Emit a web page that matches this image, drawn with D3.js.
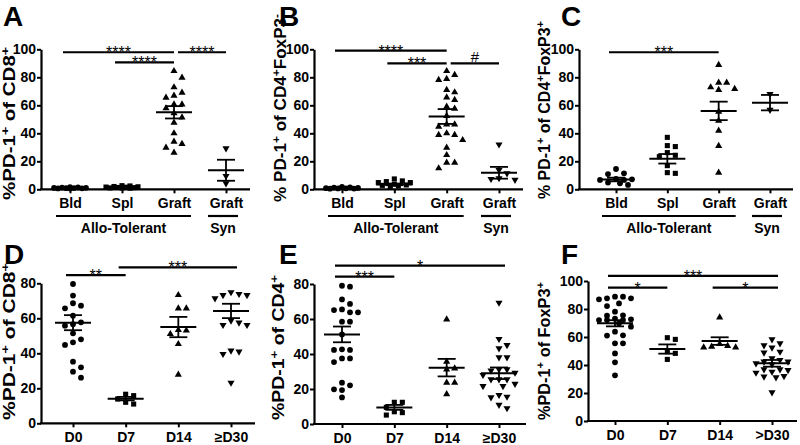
<!DOCTYPE html>
<html><head><meta charset="utf-8">
<script src="https://cdn.jsdelivr.net/npm/d3@7"></script>
<style>
html,body{margin:0;padding:0;background:#fff;}
svg{display:block;}
</style>
</head><body>
<svg id="chart" width="800" height="445"></svg>
<script>
// ---------------- DATA ----------------
const catsTop = ["Bld", "Spl", "Graft", "Graft"];
const catsDE = ["D0", "D7", "D14", "\u2265D30"];
const catsF = ["D0", "D7", "D14", ">D30"];
const ticks100 = [0, 20, 40, 60, 80, 100];
const ticks80 = [0, 20, 40, 60, 80];
const groupLabels = ["Allo-Tolerant", "Syn"];

// Panel A: %PD-1+ of CD8+
const A_bld = [1.6, 1.2, 0.8, 0.5, 1.0, 0.7, 1.3, 0.9, 0.6, 1.1];
const A_spl = [2.4, 1.8, 1.2, 0.9, 1.5, 2.0, 1.0, 1.6, 2.6, 1.3, 0.8];
const A_graft = [84.5, 79.8, 72.9, 69, 66.9, 65.5, 60.7, 60.7, 57.9, 54.3, 51.4, 47.6, 40, 34, 32.4, 29.8, 26.2];
const A_syn = [29.3, 9.5, 4.3];
const A_mean = [1.0, 1.6, 55, 13.6];
const A_sem = [0.2, 0.3, 4.4, 7.5];
const A_sig = [[0, 2, 97.9, "****"], [1, 2, 90.7, "****"], [2, 3, 97.9, "****"]];

// Panel B: % PD-1+ of CD4+FoxP3-
const B_bld = [1.8, 1.2, 0.8, 0.5, 0.6, 1.0, 0.4, 1.4, 0.7];
const B_spl = [7.4, 5.5, 3.6, 3.1, 4.8, 6.0, 2.4, 1.9, 4.8, 2.8];
const B_graft = [84.5, 81.7, 78.8, 78.1, 71, 69.3, 65.7, 63.8, 59, 57.6, 52.4, 46.4, 46.4, 44.8, 40, 38.8, 38.8, 35.2, 29.8, 24.5, 19, 19, 15];
const B_syn = [32, 13.8, 11.4, 7.9, 7.4, 6.7];
const B_mean = [1.0, 3.5, 52, 11.8];
const B_sem = [0.2, 0.6, 5.3, 4.2];
const B_sig = [[0, 2, 99, "****"], [1, 2, 90, "***"], [2, 3, 90, "#"]];

// Panel C: % PD-1+ of CD4+FoxP3+
const C_bld = [14.5, 11.4, 10.9, 7.4, 7.1, 6.7, 6.7, 4.3, 4.8, 3.1];
const C_spl = [37.1, 31.2, 30.5, 26.2, 24.3, 23.3, 16.9, 11.4, 11.9];
const C_graft = [88.8, 76.2, 76.2, 71.7, 71, 72.9, 55.5, 49, 41.9, 31, 11.9];
const C_syn = [68.1, 56.7];
const C_mean = [7.0, 21.8, 56, 61.9];
const C_sem = [1.3, 3.4, 6.6, 5.5];
const C_sig = [[0, 2, 97.9, "***"]];

// Panel D: %PD-1+ of CD8+ over time
const D_d0 = [79.6, 73, 68.6, 67.2, 65.7, 61.5, 57.7, 56.6, 55.8, 51.4, 48, 46.3, 44.8, 35.2, 32, 29.5, 26.1];
const D_d7 = [16.6, 15.8, 13.9, 12, 11];
const D_d14 = [73.3, 65.7, 65.7, 53.3, 53, 51, 45.3, 27.8];
const D_d30 = [74.9, 73.9, 73.3, 73.3, 71.4, 58.7, 57.5, 56.2, 56.2, 41.5, 41, 39.6, 23.2];
const D_mean = [57.5, 14.1, 55, 64.2];
const D_sem = [4.3, 1.0, 5.8, 4.1];
const D_sig = [[0, 1, 84.7, "**"], [1, 3, 89.1, "***"]];

// Panel E: %PD-1+ of CD4+ over time
const E_d0 = [79, 78.5, 71.2, 68.6, 65.5, 65.1, 63.8, 63.8, 58.5, 58.5, 51.2, 42.7, 42.3, 42.3, 37.5, 37.5, 35.4, 23.6, 22.1, 19.8, 19.4, 15.2];
const E_d7 = [12.4, 12.4, 9.5, 7, 6.5, 5.1];
const E_d14 = [59.8, 35.6, 31.8, 31.2, 23.6, 23.6, 17.1];
const E_d30 = [69.3, 48.6, 45.1, 43.2, 38.1, 38.1, 31.2, 31.2, 30.5, 29.3, 28, 25.5, 25.5, 25.5, 22.9, 21.7, 21.7, 16.6, 15.6, 15.2, 10.9, 9];
const E_mean = [51.2, 9.5, 32.2, 29];
const E_sem = [4.5, 1.4, 5, 3.3];
const E_sig = [[0, 1, 84.2, "***"], [0, 3, 90.5, "*"]];

// Panel F: %PD-1+ of FoxP3+ over time
const F_d0 = [88.8, 88.8, 87.6, 87.6, 86.9, 84, 82.1, 78.1, 75.5, 75.2, 73.1, 72.6, 72.1, 72.1, 72.1, 69.8, 67.4, 63.8, 61.2, 61, 55.5, 55.5, 48.3, 41.9, 32.6];
const F_d7 = [59.5, 58.3, 49.5, 48.3, 44];
const F_d14 = [74, 55, 53.6, 53.1, 52.6, 52.6];
const F_d30 = [58.3, 55.5, 54, 52.4, 49.5, 48.8, 44.8, 43.6, 42.4, 42.4, 41.2, 40.5, 36.9, 36.9, 36.4, 35.2, 34.5, 32.1, 31.7, 31.2, 20.5];
const F_mean = [69.8, 51.4, 57.1, 41.2];
const F_sem = [2.2, 3.3, 2.7, 2.4];
const F_sig = [[0, 3, 103.6, "***"], [0, 1, 95.2, "*"], [2, 3, 95.2, "*"]];

// ---------------- LAYOUT ----------------
const FONT = '"Liberation Sans", Arial, Helvetica, sans-serif';
const svg = d3.select("#chart");

const panels = [
  { letter: "A", lx: 3, ly: 26, cats: catsTop, groups: [A_bld, A_spl, A_graft, A_syn], mean: A_mean, sem: A_sem, sig: A_sig,
    ax: 41, xr: [70, 226], xend: 250, yb: 189.3, yt: 49.3, ymax: 100, ticks: ticks100,
    title: [["%PD-1", 0], ["+", 1], [" of CD8", 0], ["+", 1]], tx: 15, ty: 123.5, tlen: 153, grp: true },
  { letter: "B", lx: 279, ly: 26, cats: catsTop, groups: [B_bld, B_spl, B_graft, B_syn], mean: B_mean, sem: B_sem, sig: B_sig,
    ax: 314, xr: [342, 499], xend: 523, yb: 189.3, yt: 49.3, ymax: 100, ticks: ticks100,
    title: [["% PD-1", 0], ["+", 1], [" of  CD4", 0], ["+", 1], ["FoxP3", 0], ["-", 1]], tx: 286, ty: 108, tlen: 188, grp: true },
  { letter: "C", lx: 561, ly: 26, cats: catsTop, groups: [C_bld, C_spl, C_graft, C_syn], mean: C_mean, sem: C_sem, sig: C_sig,
    ax: 579, xr: [616, 770], xend: 793, yb: 189.3, yt: 49.3, ymax: 100, ticks: ticks100,
    title: [["% PD-1", 0], ["+", 1], [" of CD4", 0], ["+", 1], ["FoxP3", 0], ["+", 1]], tx: 550, ty: 110, tlen: 178, grp: true },
  { letter: "D", lx: 4, ly: 264, cats: catsDE, groups: [D_d0, D_d7, D_d14, D_d30], mean: D_mean, sem: D_sem, sig: D_sig,
    ax: 41, xr: [73, 231], xend: 255, yb: 423.3, yt: 283.3, ymax: 80, ticks: ticks80,
    title: [["%PD-1", 0], ["+", 1], [" of CD8", 0], ["+", 1]], tx: 15, ty: 341.5, tlen: 157, grp: false },
  { letter: "E", lx: 279, ly: 264, cats: catsDE, groups: [E_d0, E_d7, E_d14, E_d30], mean: E_mean, sem: E_sem, sig: E_sig,
    ax: 314, xr: [342, 499], xend: 526, yb: 424, yt: 284, ymax: 80, ticks: ticks80,
    title: [["%PD-1", 0], ["+", 1], [" of CD4", 0], ["+", 1]], tx: 284, ty: 347.5, tlen: 145, grp: false },
  { letter: "F", lx: 561, ly: 264, cats: catsF, groups: [F_d0, F_d7, F_d14, F_d30], mean: F_mean, sem: F_sem, sig: F_sig,
    ax: 588, xr: [615, 772], xend: 797, yb: 421, yt: 281, ymax: 100, ticks: ticks100,
    title: [["%PD-1", 0], ["+", 1], [" of FoxP3", 0], ["+", 1]], tx: 550, ty: 351, tlen: 138, grp: false }
];

const symbolTypes = ["circle", "square", "up", "down"];
const symGen = {
  circle: d3.symbol(d3.symbolCircle, 26)(),
  square: d3.symbol(d3.symbolSquare, 26)(),
  up: d3.symbol(d3.symbolTriangle, 22)(),
  down: d3.symbol(d3.symbolTriangle, 22)()
};

function swarm(vals, cx, y) {
  const step = 8, d = 7, maxHalf = 16;
  const cands = [0];
  for (let k = 1; k * step <= maxHalf; k++) { cands.push(k * step, -k * step); }
  for (let k = 0.5; k * step <= maxHalf; k++) { cands.push(k * step, -k * step); }
  const pts = vals.map(v => ({ v, py: y(v) })).sort((a, b) => b.v - a.v);
  const placed = [];
  pts.forEach(p => {
    let best = null;
    for (const c of cands) {
      if (placed.every(q => Math.hypot(q.dx - c, q.py - p.py) >= d)) { best = c; break; }
    }
    if (best === null) {
      let bestScore = -1;
      for (const c of cands) {
        const m = d3.min(placed, q => Math.hypot(q.dx - c, q.py - p.py));
        if (m > bestScore + 0.01) { bestScore = m; best = c; }
      }
    }
    p.dx = best; p.px = cx + best;
    placed.push(p);
  });
  return placed;
}

panels.forEach(p => {
  const g = svg.append("g");
  const x = d3.scalePoint().domain(d3.range(p.cats.length)).range(p.xr);
  const y = d3.scaleLinear().domain([0, p.ymax]).range([p.yb, p.yt]);

  // panel letter
  g.append("text").attr("x", p.lx).attr("y", p.ly)
    .attr("font-family", FONT).attr("font-weight", "bold").attr("font-size", 28)
    .text(p.letter);

  // y title
  const tt = g.append("text")
    .attr("transform", `translate(${p.tx},${p.ty}) rotate(-90)`)
    .attr("text-anchor", "middle")
    .attr("font-family", FONT).attr("font-weight", "bold").attr("font-size", 16)
    .attr("textLength", p.tlen).attr("lengthAdjust", "spacingAndGlyphs");
  let prevSup = false;
  p.title.forEach(([s, sup]) => {
    const ts = tt.append("tspan").text(s);
    if (sup && !prevSup) ts.attr("dy", -6).attr("font-size", 11);
    else if (!sup && prevSup) ts.attr("dy", 6);
    else if (sup) ts.attr("font-size", 11);
    prevSup = !!sup;
  });

  // y axis
  const ya = g.append("g").attr("transform", `translate(${p.ax},0)`)
    .call(d3.axisLeft(y).tickValues(p.ticks).tickSize(4).tickSizeOuter(0).tickPadding(1));
  ya.select(".domain").attr("stroke", "#000").attr("stroke-width", 2.2);
  ya.selectAll(".tick line").attr("stroke", "#000").attr("stroke-width", 2);
  ya.selectAll(".tick text").attr("font-family", FONT).attr("font-weight", "bold").attr("font-size", 14).attr("fill", "#000");

  // x axis
  g.append("line").attr("x1", p.ax - 1).attr("x2", p.xend).attr("y1", y(0)).attr("y2", y(0))
    .attr("stroke", "#000").attr("stroke-width", 2.2);
  const xa = g.append("g").attr("transform", `translate(0,${y(0)})`)
    .call(d3.axisBottom(x).tickSize(4).tickPadding(5).tickFormat(i => p.cats[i]));
  xa.select(".domain").remove();
  xa.selectAll(".tick line").attr("stroke", "#000").attr("stroke-width", 2);
  xa.selectAll(".tick text").attr("font-family", FONT).attr("font-weight", "bold").attr("font-size", 14).attr("fill", "#000");

  // group labels (top row)
  if (p.grp) {
    const gy = 216;
    const gdefs = [[0, 2, groupLabels[0]], [3, 3, groupLabels[1]]];
    gdefs.forEach(([a, b, lab]) => {
      const x1 = x(a) - (a === 3 ? 18 : 14), x2 = x(b) + (b === 3 ? 12 : 17);
      g.append("line").attr("x1", x1).attr("x2", x2).attr("y1", gy).attr("y2", gy)
        .attr("stroke", "#000").attr("stroke-width", 2.2);
      g.append("text").attr("x", (x1 + x2) / 2).attr("y", gy + 17).attr("text-anchor", "middle")
        .attr("font-family", FONT).attr("font-weight", "bold").attr("font-size", 14).text(lab);
    });
  }

  // points
  p.groups.forEach((vals, i) => {
    const pts = swarm(vals, x(i), y);
    const t = symbolTypes[i];
    g.append("g").selectAll("path").data(pts).join("path")
      .attr("d", symGen[t])
      .attr("transform", d => `translate(${d.px},${d.py})` + (t === "down" ? " rotate(180)" : ""))
      .attr("fill", "#000");
  });

  // mean & SEM
  p.mean.forEach((m, i) => {
    const cx = x(i), s = p.sem[i];
    g.append("line").attr("x1", cx - 18).attr("x2", cx + 18).attr("y1", y(m)).attr("y2", y(m))
      .attr("stroke", "#000").attr("stroke-width", 2);
    g.append("line").attr("x1", cx).attr("x2", cx).attr("y1", y(m - s)).attr("y2", y(m + s))
      .attr("stroke", "#000").attr("stroke-width", 1.8);
    [m - s, m + s].forEach(v => {
      g.append("line").attr("x1", cx - 9).attr("x2", cx + 9).attr("y1", y(v)).attr("y2", y(v))
        .attr("stroke", "#000").attr("stroke-width", 1.8);
    });
  });

  // significance bars
  p.sig.forEach(([a, b, lvl, lab]) => {
    const adjacent = p.sig.some(o => o[1] === a && Math.abs(o[2] - lvl) < 0.5);
    const x1 = adjacent ? x(a) + 4 : x(a) - 7;
    const x2 = x(b) + (b === p.cats.length - 1 && !p.grp ? 6 : 0);
    const yy = y(lvl);
    g.append("line").attr("x1", x1).attr("x2", x2).attr("y1", yy).attr("y2", yy)
      .attr("stroke", "#000").attr("stroke-width", 2.2);
    const isHash = lab === "#";
    g.append("text").attr("x", (x1 + x2) / 2).attr("y", isHash ? yy - 1 : yy + 6)
      .attr("text-anchor", "middle")
      .attr("font-family", FONT).attr("font-size", isHash ? 15 : 16)
      .text(lab);
  });
});
</script>
</body></html>
